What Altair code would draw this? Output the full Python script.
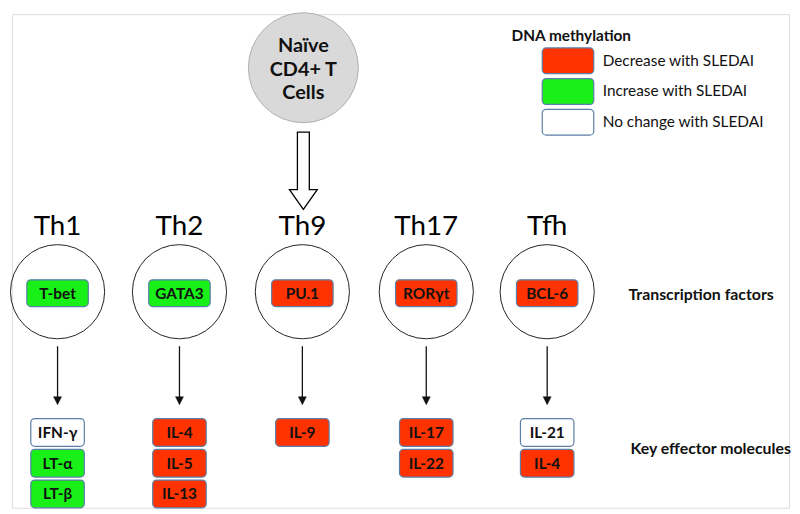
import altair as alt
import pandas as pd

# ---------------- data ----------------
cell_types = ["Th1", "Th2", "Th9", "Th17", "Tfh"]
transcription_factors = ["T-bet", "GATA3", "PU.1", "RORγt", "BCL-6"]
tf_change = ["Increase", "Increase", "Decrease", "Decrease", "Decrease"]
effectors = [["IFN-γ", "LT-α", "LT-β"],
             ["IL-4", "IL-5", "IL-13"],
             ["IL-9"],
             ["IL-17", "IL-22"],
             ["IL-21", "IL-4"]]
effector_change = [["None", "Increase", "Increase"],
                   ["Decrease", "Decrease", "Decrease"],
                   ["Decrease"],
                   ["Decrease", "Decrease"],
                   ["None", "Decrease"]]
legend_keys = ["Decrease", "Increase", "None"]
legend_labels = ["Decrease with SLEDAI", "Increase with SLEDAI", "No change with SLEDAI"]
row_labels = ["Transcription factors", "Key effector molecules"]
naive_lines = ["Naïve", "CD4+ T", "Cells"]

# ---------------- layout (pixel-like coordinates of the figure) ----------------
col_x = [54, 177, 301, 426, 548]
FONT = "Lato"
RED, GREEN, WHITE = "#ff3300", "#18f018", "#ffffff"
BORDER = "#5b7fa8"

color_scale = alt.Scale(domain=legend_keys, range=[RED, GREEN, WHITE])
X = alt.Scale(domain=[8, 792], nice=False, zero=False)
Y = alt.Scale(domain=[506, 8], nice=False, zero=False)

def xq(f):
    return alt.X(f, type="quantitative", scale=X, axis=None)

def yq(f):
    return alt.Y(f, type="quantitative", scale=Y, axis=None)

# naive cell
naive_df = pd.DataFrame({"x": [302], "y": [62]})
naive_circle = alt.Chart(naive_df).mark_point(
    shape="circle", size=111 ** 2, filled=True, fill="#d9d9d9",
    stroke="#b0b0b0", strokeWidth=1, opacity=1
).encode(x=xq("x"), y=yq("y"))

naive_txt_df = pd.DataFrame({"x": [302] * 3, "y": [40, 64, 88], "t": naive_lines})
naive_text = alt.Chart(naive_txt_df).mark_text(
    font=FONT, fontSize=20, fontWeight="bold", color="#111111", baseline="middle"
).encode(x=xq("x"), y=yq("y"), text="t:N")

# hollow arrow
big_arrow_path = ("M-0.154,-1 L0.154,-1 L0.154,0.487 L0.36,0.487 L0,1 "
                  "L-0.36,0.487 L-0.154,0.487 Z")
big_arrow = alt.Chart(pd.DataFrame({"x": [302], "y": [166]})).mark_point(
    shape=big_arrow_path, size=78 ** 2, filled=True, fill="white",
    stroke="black", strokeWidth=1.3, opacity=1
).encode(x=xq("x"), y=yq("y"))

# cell type labels
ct_df = pd.DataFrame({"x": col_x, "y": [223] * 5, "t": cell_types})
ct_text = alt.Chart(ct_df).mark_text(
    font=FONT, fontSize=28, color="black", baseline="middle"
).encode(x=xq("x"), y=yq("y"), text="t:N")

# cell circles
circ_df = pd.DataFrame({"x": col_x, "y": [288] * 5})
circles = alt.Chart(circ_df).mark_point(
    shape="circle", size=95 ** 2, filled=False, stroke="#222222",
    strokeWidth=1, opacity=1
).encode(x=xq("x"), y=yq("y"))

# transcription factor boxes
TFW, TFH = 62, 27
tf_df = pd.DataFrame({
    "x1": [c - TFW / 2 for c in col_x], "x2": [c + TFW / 2 for c in col_x],
    "y1": [289.5 - TFH / 2] * 5, "y2": [289.5 + TFH / 2] * 5,
    "x": col_x, "y": [290] * 5,
    "t": transcription_factors, "c": tf_change,
})
tf_boxes = alt.Chart(tf_df).mark_rect(
    cornerRadius=4, stroke=BORDER, strokeWidth=1.2
).encode(x=xq("x1"), x2="x2", y=yq("y1"), y2="y2",
         fill=alt.Fill("c:N", scale=color_scale, legend=None))
tf_text = alt.Chart(tf_df).mark_text(
    font=FONT, fontSize=15.5, fontWeight="bold", color="#111111", baseline="middle"
).encode(x=xq("x"), y=yq("y"), text="t:N")

# thin arrows
ar_df = pd.DataFrame({"x": col_x, "y1": [343] * 5, "y2": [396] * 5, "yh": [398] * 5})
rules = alt.Chart(ar_df).mark_rule(color="#111111", strokeWidth=1.3).encode(
    x=xq("x"), y=yq("y1"), y2="y2")
heads = alt.Chart(ar_df).mark_point(
    shape="M-1,-1 L1,-1 L0,1 Z", size=64, filled=True, fill="#111111",
    stroke="#111111", strokeWidth=0.5, opacity=1
).encode(x=xq("x"), y=yq("yh"))

# effector boxes
EW, EH = 54, 28
row_y = [430, 461, 492]
rows = []
for i, (names, chg) in enumerate(zip(effectors, effector_change)):
    for j, (n, c) in enumerate(zip(names, chg)):
        rows.append({"x": col_x[i], "x1": col_x[i] - EW / 2, "x2": col_x[i] + EW / 2,
                     "y": row_y[j] + 0.5, "y1": row_y[j] - EH / 2, "y2": row_y[j] + EH / 2,
                     "t": n, "c": c})
ef_df = pd.DataFrame(rows)
ef_boxes = alt.Chart(ef_df).mark_rect(
    cornerRadius=4, stroke=BORDER, strokeWidth=1.2
).encode(x=xq("x1"), x2="x2", y=yq("y1"), y2="y2",
         fill=alt.Fill("c:N", scale=color_scale, legend=None))
ef_text = alt.Chart(ef_df).mark_text(
    font=FONT, fontSize=15.5, fontWeight="bold", color="#111111", baseline="middle"
).encode(x=xq("x"), y=yq("y"), text="t:N")

# row labels
rl_df = pd.DataFrame({"x": [630, 632], "y": [291, 447], "t": row_labels})
rl_text = alt.Chart(rl_df).mark_text(
    font=FONT, fontSize=16, fontWeight="bold", color="#111111",
    align="left", baseline="middle"
).encode(x=xq("x"), y=yq("y"), text="t:N")

# legend
lg_title = alt.Chart(pd.DataFrame({"x": [512], "y": [30], "t": ["DNA methylation"]})).mark_text(
    font=FONT, fontSize=15.5, fontWeight="bold", color="#111111",
    align="left", baseline="middle"
).encode(x=xq("x"), y=yq("y"), text="t:N")

lg_df = pd.DataFrame({
    "k": legend_keys, "t": legend_labels,
    "x1": [543] * 3, "x2": [595] * 3,
    "y1": [42, 73, 104], "y2": [68, 99, 130],
    "tx": [604] * 3, "ty": [55, 86, 117],
})
lg_boxes = alt.Chart(lg_df).mark_rect(
    cornerRadius=4, stroke=BORDER, strokeWidth=1.2
).encode(x=xq("x1"), x2="x2", y=yq("y1"), y2="y2",
         fill=alt.Fill("k:N", scale=color_scale, legend=None))
lg_text = alt.Chart(lg_df).mark_text(
    font=FONT, fontSize=15.5, color="#111111", align="left", baseline="middle"
).encode(x=xq("tx"), y=yq("ty"), text="t:N")

chart = alt.layer(
    naive_circle, naive_text, big_arrow, ct_text, circles,
    tf_boxes, tf_text, rules, heads, ef_boxes, ef_text, rl_text,
    lg_title, lg_boxes, lg_text
).properties(
    width=784, height=498, padding=0
).configure_view(strokeWidth=0, strokeOpacity=0).configure(background="white")

chart.save("out.html", embed_options={"renderer": "svg", "actions": False})
